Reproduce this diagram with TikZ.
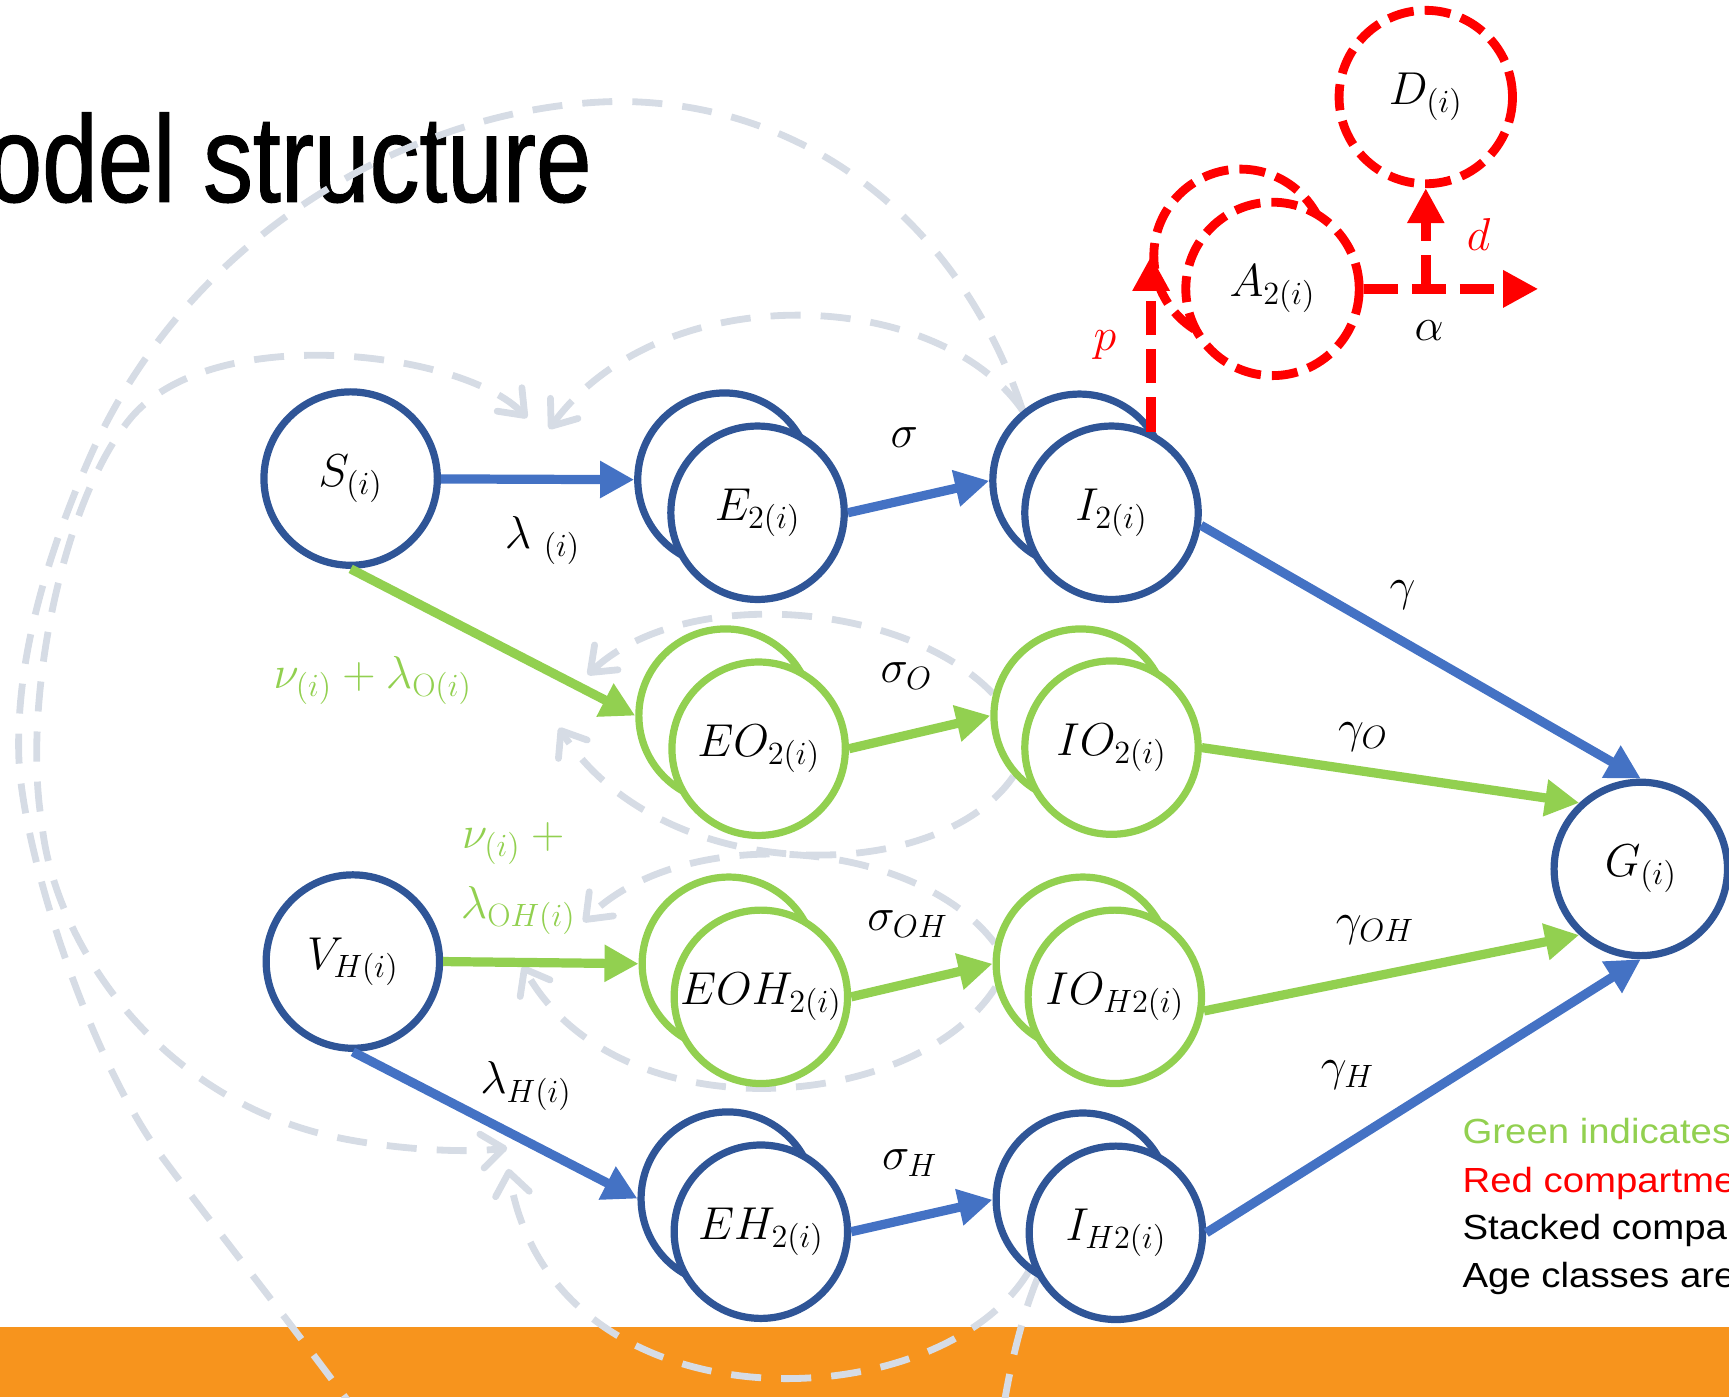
\RequirePackage{fix-cm}
\documentclass[tikz,border=0pt]{standalone}
\usepackage{fontspec}
\usetikzlibrary{arrows.meta}
\newfontfamily\titlefont[FakeStretch=0.81,FakeBold=0.9]{Liberation Sans}
\newfontfamily\legendfont[FakeStretch=1.1]{Liberation Sans}
\definecolor{navy}{HTML}{2F5597}
\definecolor{flowblue}{HTML}{4472C4}
\definecolor{flowgreen}{HTML}{92D050}
\definecolor{haze}{HTML}{D6DCE5}
\definecolor{barorange}{HTML}{F7941D}
\pgfdeclarelayer{bg}
\pgfdeclarelayer{arcs}
\pgfsetlayers{bg,arcs,main}
\tikzset{
  comp/.style={circle, draw=navy, line width=3.6pt, fill=white, minimum size=86.5pt,
    inner sep=0pt, font=\fontsize{23}{28}\selectfont},
  compg/.style={comp, draw=flowgreen},
  compr/.style={comp, draw=red, line width=4.4pt, dash pattern=on 13pt off 5.5pt},
  flow/.style={line width=4.6pt, -{Triangle[length=17pt,width=17.5pt]}},
  blueflow/.style={flow, draw=flowblue},
  greenflow/.style={flow, draw=flowgreen},
  redflow/.style={draw=red, line width=5.2pt, dash pattern=on 17pt off 7pt,
    -{Triangle[length=17.5pt,width=17.5pt]}},
  infect/.style={draw=haze, line width=3.4pt, dash pattern=on 15pt off 10pt},
  barb/.style={-{Straight Barb[length=11pt,width=17pt,round]}},
  rate/.style={inner sep=0pt, font=\fontsize{23}{28}\selectfont},
  legend/.style={anchor=base west, inner sep=0pt, font=\legendfont\fontsize{17.4}{20}\selectfont},
}
\begin{document}
\begin{tikzpicture}[x=0.55pt,y=-0.55pt]
\useasboundingbox (0,0) rectangle (1568,1267);
\clip (0,0) rectangle (1568,1267);

% compartments (back circle of a stacked pair first)
\node[comp] (s) at (318,434) {$S_{(i)}$};
\node[comp] (e2b) at (657,435) {};
\node[comp] (e2) at (687,465) {$E_{2(i)}$};
\node[comp] (i2b) at (979,436) {};
\node[comp] (i2) at (1008,465) {$I_{2(i)}$};
\node[compg] (eo2b) at (658,649) {};
\node[compg] (eo2) at (688,679) {$EO_{2(i)}$};
\node[compg] (io2b) at (980,649) {};
\node[compg] (io2) at (1008,678) {$IO_{2(i)}$};
\node[comp] (vh) at (320,872) {$V_{H(i)}$};
\node[compg] (eoh2b) at (661,874) {};
\node[compg] (eoh2) at (690,904) {$EOH_{2(i)}$};
\node[compg] (ioh2b) at (982,874) {};
\node[compg] (ioh2) at (1011,904) {$IO_{H2(i)}$};
\node[comp] (eh2b) at (660,1087) {};
\node[comp] (eh2) at (690,1117) {$EH_{2(i)}$};
\node[comp] (ih2b) at (982,1088) {};
\node[comp] (ih2) at (1012,1118) {$I_{H2(i)}$};
\node[comp] (g) at (1488,788) {$G_{(i)}$};
\node[compr] (a2b) at (1125,232) {};
\node[compr] (a2) at (1154,262) {$A_{2(i)}$};
\node[compr] (d) at (1293,88) {$D_{(i)}$};

% transitions
\draw[blueflow] (s) -- (e2b.west);
\draw[blueflow] (e2.east) -- (i2b.west);
\draw[blueflow] (i2.-8) -- (g.north);
\draw[greenflow] (s.south) -- (eo2b.west);
\draw[greenflow] (eo2.east) -- (io2b.west);
\draw[greenflow] (io2.east) -- (g.133);
\draw[greenflow] (vh.east) -- (eoh2b.west);
\draw[greenflow] (eoh2.east) -- (ioh2b.west);
\draw[greenflow] (ioh2.-9) -- (g.227);
\draw[blueflow] (vh.south) -- (eh2b.west);
\draw[blueflow] (eh2.east) -- (ih2b.west);
\draw[blueflow] (ih2.east) -- (g.south);

% admission, death and discharge
\coordinate (alphaend) at (1395,262);
\coordinate (junc) at (d.south |- a2.east);
\draw[redflow] (i2.64) -- (i2.64 |- a2b.west);
\draw[redflow] (a2.east) -- (alphaend);
\draw[redflow] (junc) -- (d.south);

% rate labels
\node[rate] (lsig) at (820,397) {$\sigma$};
\node[rate] (llam) at (492,490) {$\lambda\;{}_{(i)}$};
\node[rate] (lgam) at (1272,540) {$\gamma$};
\node[rate, text=flowgreen] (lnuo) at (338,617) {$\nu_{(i)}+\lambda_{\mathrm{O}(i)}$};
\node[rate] (lsigo) at (822,613) {$\sigma_O$};
\node[rate] (lgamo) at (1236,668) {$\gamma_O$};
\node[rate, text=flowgreen] (lnuoh) at (470,765) {$\nu_{(i)}+{}$};
\node[rate, text=flowgreen] (llamoh) at (470,826) {$\lambda_{\mathrm{O}H(i)}$};
\node[rate] (lsigoh) at (823,838) {$\sigma_{OH}$};
\node[rate] (lgamoh) at (1247,843) {$\gamma_{OH}$};
\node[rate] (llamh) at (477,985) {$\lambda_{H(i)}$};
\node[rate] (lsigh) at (825,1055) {$\sigma_H$};
\node[rate] (lgamh) at (1222,975) {$\gamma_H$};
\node[rate, text=red] (lp) at (1002,313) {$p$};
\node[rate, text=red] (ld) at (1341,213) {$d$};
\node[rate] (lalpha) at (1296,300) {$\alpha$};

% legend
\node[legend, text=flowgreen] (leg1) at (1326,1037) {Green indicates};
\node[legend, text=red] (leg2) at (1326,1081) {Red compartme};
\node[legend] (leg3) at (1326,1124) {Stacked compa};
\node[legend] (leg4) at (1326,1168) {Age classes are};

% free ends of the infection-pressure arcs
\coordinate (tip1) at (498,389);
\coordinate (tip3a) at (478,379);
\coordinate (tip3b) at (460,1041);
\coordinate (tip4) at (461,1060);
\coordinate (tip6) at (533,612);
\coordinate (tip7) at (507,660);
\coordinate (tip8) at (529,836);
\coordinate (tip9) at (474,876);
\coordinate (outA) at (330,1290);
\coordinate (outB) at (908,1290);

\begin{pgfonlayer}{bg}
  \clip (0,0) rectangle (1568,1267);
  \fill[barorange] (0,1203) rectangle (1568,1267);
  \node[anchor=base east, inner sep=0pt, font=\titlefont\fontsize{61.5}{70}\selectfont]
    (title) at (537,183) {odel structure};
\end{pgfonlayer}

\begin{pgfonlayer}{arcs}
  \clip (0,0) rectangle (1568,1267);
  \draw[infect, barb] (i2b.129) .. controls (850,260) and (600,250) .. (tip1);
  \draw[infect] (i2b.129) .. controls (870,200) and (730,92) .. (560,92)
    .. controls (380,95) and (170,210) .. (80,418)
    .. controls (40,510) and (15,600) .. (17,684)
    .. controls (19,768) and (80,960) .. (149,1052)
    .. controls (190,1107) and (260,1195) .. (outA);
  \draw[infect, {Straight Barb[length=11pt,width=17pt,round]}-{Straight Barb[length=11pt,width=17pt,round]}]
    (tip3a) .. controls (420,318) and (190,290) .. (117,381)
    .. controls (55,458) and (20,640) .. (38,747)
    .. controls (48,850) and (140,1000) .. (313,1033)
    .. controls (360,1042) and (420,1046) .. (tip3b);
  \draw[infect, barb] (ih2b.233) .. controls (850,1290) and (500,1300) .. (tip4);
  \draw[infect] (ih2b.240) .. controls (928,1190) and (915,1240) .. (outB);
  \draw[infect, barb] (io2b.166) .. controls (820,545) and (620,530) .. (tip6);
  \draw[infect, barb] (io2b.222) .. controls (850,805) and (600,805) .. (tip7);
  \draw[infect, barb] (ioh2b.167) .. controls (830,760) and (620,745) .. (tip8);
  \draw[infect, barb] (ioh2b.195) .. controls (830,1010) and (560,1030) .. (tip9);
\end{pgfonlayer}
\end{tikzpicture}
\end{document}
